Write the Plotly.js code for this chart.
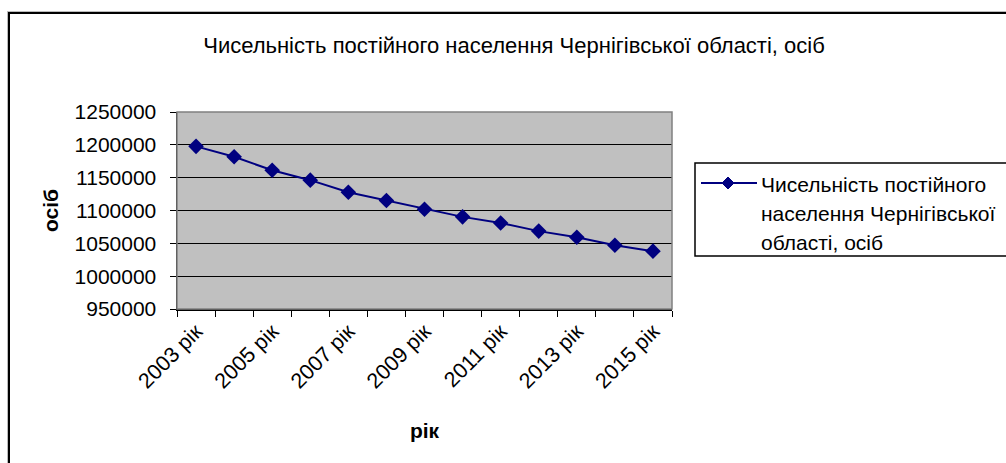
<!DOCTYPE html>
<html>
<head>
<meta charset="utf-8">
<script src="https://cdn.plot.ly/plotly-3.0.1.min.js"></script>
<style>
html, body { margin: 0; padding: 0; background: #fff; overflow: hidden; }
#frame { position: absolute; left: 8px; top: 12px; width: 1100px; height: 600px; border-left: 2px solid #000; border-top: 2px solid #000; box-shadow: -1px -1px 0 #bbb; }
#chart { position: absolute; left: 0; top: 0; width: 1006px; height: 463px; }
</style>
</head>
<body>
<div id="frame"></div>
<div id="chart"></div>
<script>
const years = ["2003 рік","2004 рік","2005 рік","2006 рік","2007 рік","2008 рік","2009 рік","2010 рік","2011 рік","2012 рік","2013 рік","2014 рік","2015 рік"];
const population = [1197700, 1181800, 1161200, 1146200, 1127900, 1115300, 1102000, 1090300, 1081000, 1068600, 1059300, 1047000, 1038100];
const tickLabels = ["2003 рік","","2005 рік","","2007 рік","","2009 рік","","2011 рік","","2013 рік","","2015 рік"];
const seriesName = "Чисельність постійного населення Чернігівської області, осіб";
const legendLines = ["Чисельність постійного", "населення Чернігівської", "області, осіб"];

const W = 1006, H = 463;
const L = 177, R = 672, T = 112, B = 309;
const px = x => (x - L) / (R - L);
const py = y => (B - y) / (B - T);

const font = "Liberation Sans, Arial, sans-serif";
const navy = "#000080";

const trace = {
  x: years, y: population, type: "scatter", mode: "lines+markers",
  name: seriesName,
  line: { color: navy, width: 2 },
  marker: { symbol: "diamond", size: 12, color: navy },
  showlegend: false, hoverinfo: "x+y"
};

// legend (drawn to match Excel spacing)
const legY = [184, 213, 242];
const shapes = [
  { type: "rect", xref: "paper", yref: "paper", x0: 0, x1: 1, y0: 0, y1: 1, line: { color: "#808080", width: 1.5 }, layer: "above" },
  { type: "rect", xref: "paper", yref: "paper", x0: px(695), x1: px(1030), y0: py(256), y1: py(163), line: { color: "#000", width: 1.5 }, fillcolor: "rgba(0,0,0,0)" },
  { type: "line", xref: "paper", yref: "paper", x0: px(701), x1: px(757), y0: py(183), y1: py(183), line: { color: navy, width: 2 } },
  { type: "path", xref: "paper", yref: "paper",
    path: `M ${px(722)} ${py(183)} L ${px(728)} ${py(177)} L ${px(734)} ${py(183)} L ${px(728)} ${py(189)} Z`,
    fillcolor: navy, line: { color: navy, width: 1 } }
];
const annotations = legendLines.map((t, i) => ({
  text: t, xref: "paper", yref: "paper", x: px(759), y: py(legY[i]),
  xanchor: "left", yanchor: "middle", showarrow: false,
  font: { family: font, size: 21, color: "#000" }
}));

const layout = {
  width: W, height: H,
  margin: { l: L, r: W - R, t: T, b: H - B, pad: 0 },
  paper_bgcolor: "rgba(0,0,0,0)",
  plot_bgcolor: "#C0C0C0",
  showlegend: false,
  title: { text: seriesName, font: { family: font, size: 22, color: "#000" }, xref: "container", x: 514 / W, xanchor: "center", yref: "container", y: 1 - 45 / H, yanchor: "middle" },
  xaxis: {
    type: "category", range: [-0.5, 12.5],
    tickmode: "array", tickvals: years, ticktext: tickLabels,
    tickson: "boundaries", ticks: "outside", ticklen: 6, tickcolor: "#000", tickwidth: 1,
    showline: true, linecolor: "#000", linewidth: 1.5,
    showgrid: false, zeroline: false, tickangle: -45,
    tickfont: { family: font, size: 21.5, color: "#000" },
    title: { text: "<b>рік</b>", font: { family: font, size: 21, color: "#000" }, standoff: 31 }
  },
  yaxis: {
    range: [950000, 1250000], dtick: 50000, tick0: 950000, tickformat: "d",
    ticks: "outside", ticklen: 6, tickcolor: "#000", tickwidth: 1,
    ticklabelstandoff: 9,
    showline: true, linecolor: "#000", linewidth: 1.5,
    showgrid: true, gridcolor: "#000", gridwidth: 1, zeroline: false,
    tickfont: { family: font, size: 21, color: "#000" },
    title: { text: "<b>осіб</b>", font: { family: font, size: 21, color: "#000" }, standoff: 10 }
  },
  shapes: shapes,
  annotations: annotations
};

Plotly.newPlot("chart", [trace], layout, { displayModeBar: false, staticPlot: true });
</script>
</body>
</html>
